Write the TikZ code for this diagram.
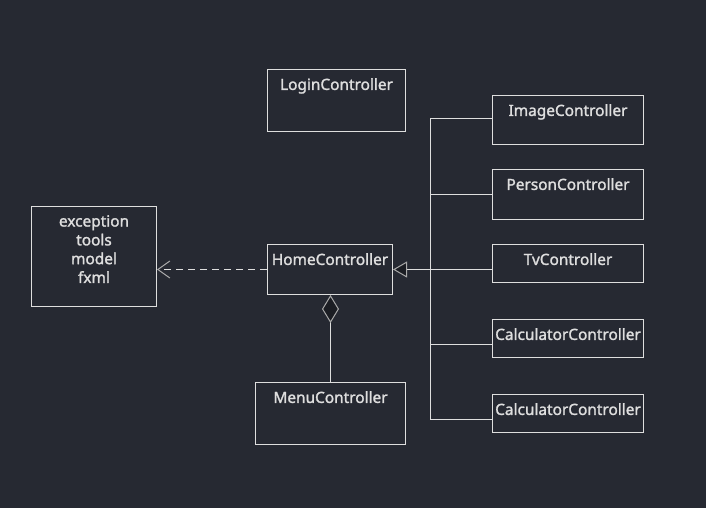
\documentclass[tikz,border=0pt]{standalone}
\usepackage{fontspec}
\setmainfont{Noto Sans}
\newfontfamily\classfont{Noto Sans}[FakeBold=1.6]
\usetikzlibrary{arrows.meta}
\definecolor{bgcol}{RGB}{38,41,50}
\definecolor{fgcol}{RGB}{222,222,222}
\definecolor{tipcol}{RGB}{170,170,170}
\colorlet{tipfill}{bgcol!70!black}
\tikzset{
  classbox/.style={draw=fgcol, line width=1pt, anchor=north west, inner sep=0pt,
    label={[anchor=north, text=fgcol, font=\classfont\fontsize{15.4}{18.8}\selectfont, align=center, inner sep=3pt, yshift=-6pt]north:#1}},
  assoc/.style={draw=fgcol, line width=1pt}
}

\begin{document}
\begin{tikzpicture}[x=1pt,y=-1pt]
\fill[bgcol] (0,0) rectangle (706,508);
\useasboundingbox (0,0) rectangle (706,508);
\node[classbox={LoginController}, minimum width=138, minimum height=62] (login) at (267,69) {};
\node[classbox={exception\\tools\\model\\fxml}, minimum width=125, minimum height=100] (pkg) at (31,206) {};
\node[classbox={HomeController}, minimum width=125, minimum height=50] (home) at (267,244) {};
\node[classbox={MenuController}, minimum width=150, minimum height=62] (menu) at (255,382) {};
\node[classbox={ImageController}, minimum width=151, minimum height=49] (img) at (492,95) {};
\node[classbox={PersonController}, minimum width=151, minimum height=50] (person) at (492,169) {};
\node[classbox={TvController}, minimum width=151, minimum height=38] (tv) at (492,244) {};
\node[classbox={CalculatorController}, minimum width=151, minimum height=38] (calcA) at (492,319) {};
\node[classbox={CalculatorController}, minimum width=151, minimum height=38] (calcB) at (492,394) {};
% trunk joining the controllers
\coordinate (jA) at (430,119);
\coordinate (jB) at (430,194);
\coordinate (jC) at (430,269);
\coordinate (jD) at (430,344);
\coordinate (jE) at (430,419);
\draw[assoc] (jA) -- (jE);
\draw[assoc] (jA) -- (jA -| img.west);
\draw[assoc] (jB) -- (jB -| person.west);
\draw[assoc] (jD) -- (jD -| calcA.west);
\draw[assoc] (jE) -- (jE -| calcB.west);
\draw[assoc, -{Triangle[length=14pt, width=16pt, fill=tipfill, color=tipcol, line width=1pt]}] (home.east -| tv.west) -- (home.east);
\draw[assoc, dash pattern=on 7pt off 5pt, -{Straight Barb[length=12pt, width=17pt, color=tipcol, line width=1pt]}] (home.west) -- (home.west -| pkg.east);
\draw[assoc, {Diamond[length=28pt, width=17pt, fill=tipfill, color=tipcol, line width=1pt]}-] (menu.north |- home.south) -- (menu.north);
\end{tikzpicture}
\end{document}
